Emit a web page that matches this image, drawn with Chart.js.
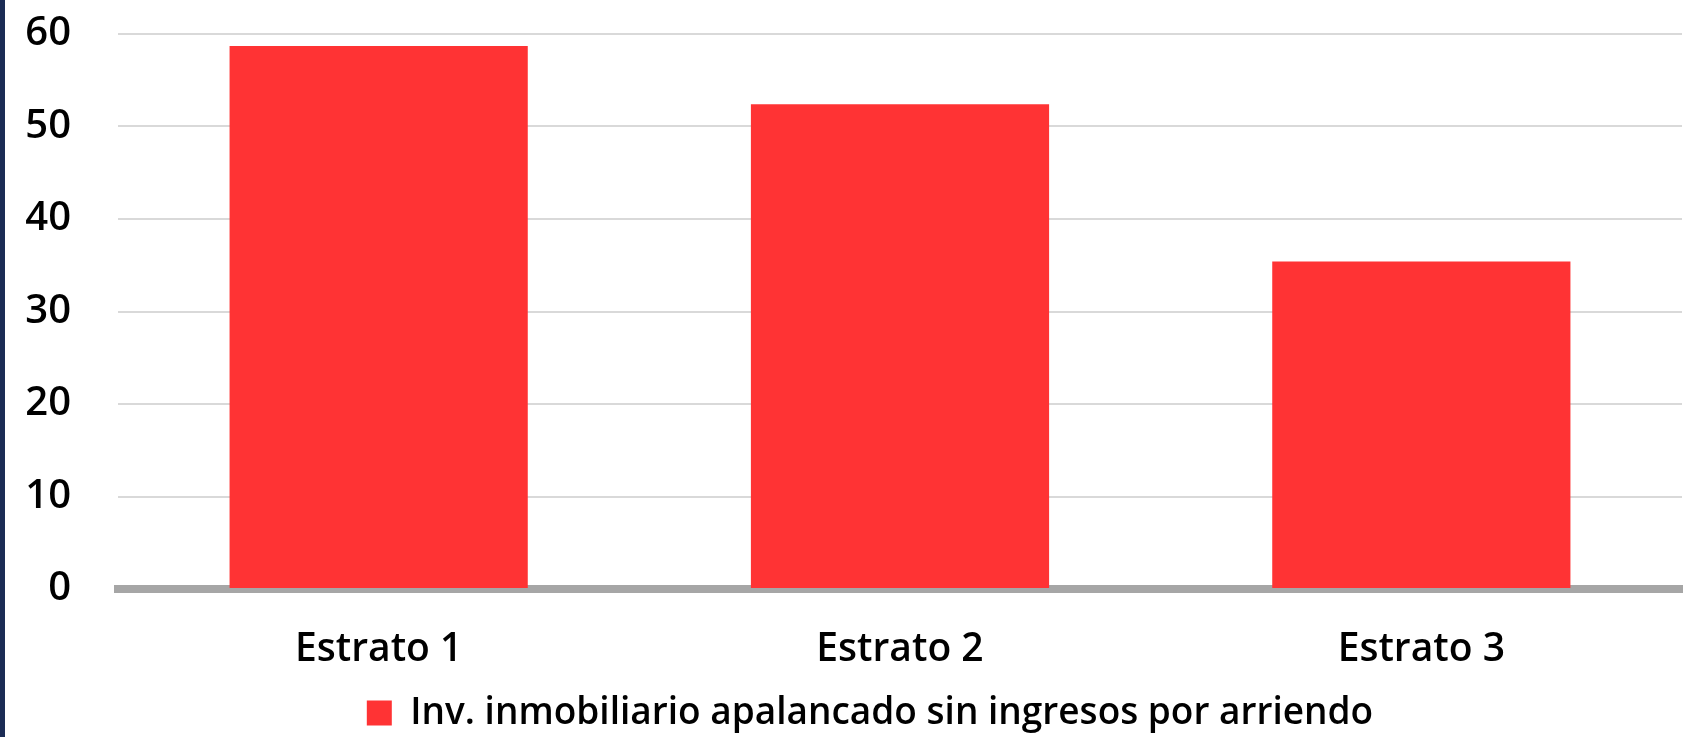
<!DOCTYPE html>
<html>
<head>
<meta charset="utf-8">
<script src="https://cdn.jsdelivr.net/npm/chart.js@4/dist/chart.umd.min.js"></script>
<style>
  html, body { margin: 0; padding: 0; background: #ffffff; }
  #wrap { position: relative; width: 1686px; height: 737px; }
  #stripe { position: absolute; left: 0; top: 0; width: 5px; height: 737px; background: #1b2c55; }
  canvas { display: block; }
</style>
</head>
<body>
<div id="wrap">
  <canvas id="chart" width="1686" height="737"></canvas>
  <div id="stripe"></div>
</div>
<script>
// Share of households per stratum
const categories = ['Estrato 1', 'Estrato 2', 'Estrato 3'];
const seriesName = 'Inv. inmobiliario apalancado sin ingresos por arriendo';
const seriesValues = [58.7, 52.4, 35.4];
const yTicks = [0, 10, 20, 30, 40, 50, 60];

const FONT = "'Open Sans', 'Liberation Sans', sans-serif";
const WEIGHT = 600;

// Places the legend row a little below the axis labels, centred under the bars
const legendPlacement = {
  id: 'legendPlacement',
  afterLayout(chart) {
    const lg = chart.legend;
    if (!lg) return;
    const dy = 718 - (lg.top + lg.height / 2);
    const dx = 870 - (lg.left + lg.right) / 2;
    lg.top += dy; lg.bottom += dy;
    lg.left += dx; lg.right += dx;
  }
};

new Chart(document.getElementById('chart'), {
  type: 'bar',
  data: {
    labels: categories,
    datasets: [{
      label: seriesName,
      data: seriesValues,
      backgroundColor: '#ff3334',
      borderWidth: 0,
      barPercentage: 0.572,
      categoryPercentage: 1.0
    }]
  },
  plugins: [legendPlacement],
  options: {
    responsive: false,
    animation: false,
    layout: { padding: { left: 0, right: 4, top: 34, bottom: 0 } },
    plugins: {
      tooltip: { enabled: false },
      legend: {
        position: 'bottom',
        labels: {
          boxWidth: 25,
          boxHeight: 25,
          padding: 0,
          color: '#000000',
          font: { family: FONT, size: 37, weight: WEIGHT }
        }
      }
    },
    scales: {
      x: {
        z: 1,
        afterFit: (axis) => {
          const lh = axis.chart.legend ? axis.chart.legend.height : 44;
          axis.height = 148 - lh;
          axis.paddingLeft = 0;
          axis.paddingRight = 0;
        },
        grid: { display: false, drawTicks: false },
        border: { display: true, color: '#a6a6a6', width: 8 },
        ticks: { color: '#000000', padding: 37, font: { family: FONT, size: 39, weight: WEIGHT } }
      },
      y: {
        min: 0,
        max: 60,
        afterBuildTicks: (axis) => { axis.ticks = yTicks.map(v => ({ value: v })); },
        afterFit: (axis) => {
          axis.width = 118;
          axis.paddingTop = 0;
          axis.paddingBottom = 0;
        },
        grid: { color: '#d9d9d9', lineWidth: 2, drawTicks: false },
        border: { display: false },
        ticks: { color: '#000000', padding: 47, font: { family: FONT, size: 40, weight: WEIGHT } }
      }
    }
  }
});
</script>
</body>
</html>
